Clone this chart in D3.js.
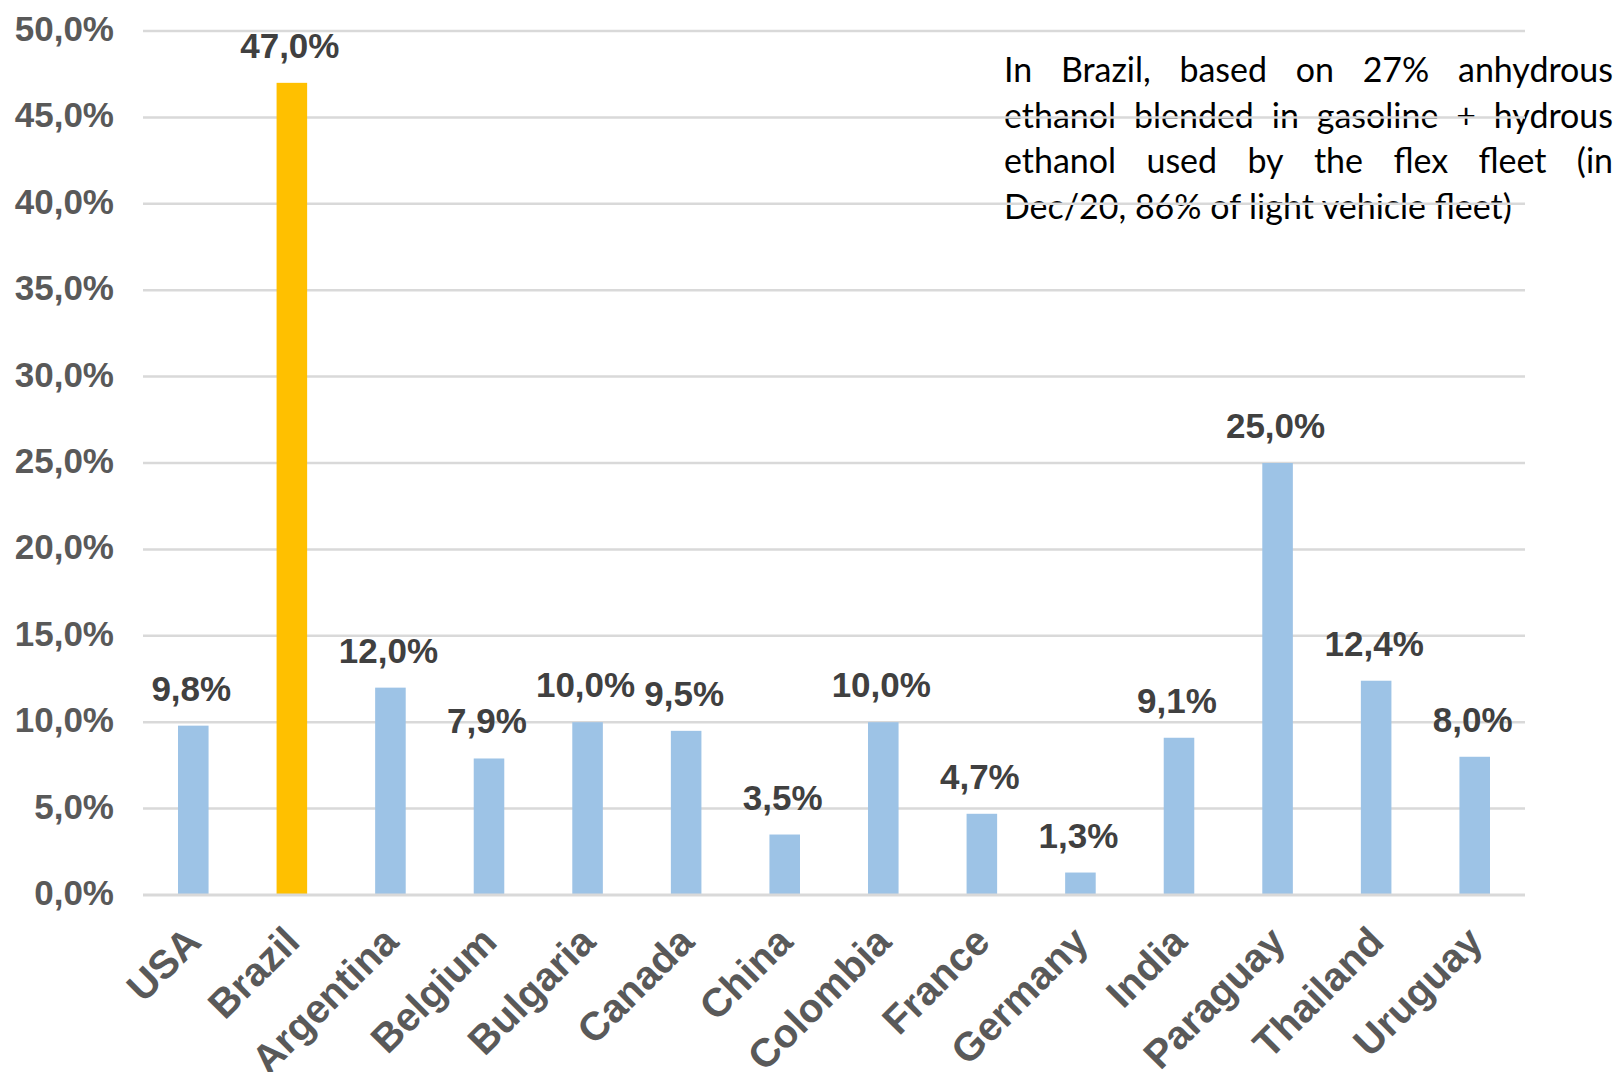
<!DOCTYPE html>
<html><head><meta charset="utf-8">
<script src="https://cdn.jsdelivr.net/npm/d3@7"></script>
<style>html,body{margin:0;padding:0;background:#fff;overflow:hidden}</style>
</head><body>
<svg id="chart" width="1620" height="1072"></svg>
<script>
const categories = ["USA","Brazil","Argentina","Belgium","Bulgaria","Canada","China","Colombia","France","Germany","India","Paraguay","Thailand","Uruguay"];
const values = [9.8,47.0,12.0,7.9,10.0,9.5,3.5,10.0,4.7,1.3,9.1,25.0,12.4,8.0];
const highlight = ["Brazil"];
const yTicks = [0,5,10,15,20,25,30,35,40,45,50];
const noteLines = [
  "In Brazil, based on 27% anhydrous",
  "ethanol blended in gasoline + hydrous",
  "ethanol used by the flex fleet (in",
  "Dec/20, 86% of light vehicle fleet)"
];

const svg = d3.select("#chart");
const fmt = v => v.toFixed(1).replace(".", ",") + "%";
const font = "'Liberation Sans', Arial, sans-serif";

const x = d3.scaleBand().domain(categories).range([144, 1524]).paddingInner(0.69).paddingOuter(0.345);
const y = d3.scaleLinear().domain([0, 50]).range([895, 31]);

// annotation text (justified)
const noteG = svg.append("g");
const noteLeft = 1004, noteRight = 1613, noteBase = 82, noteStep = 45.7;
const probe = noteG.append("text").attr("font-family","Lato, sans-serif").attr("font-size",100).text(noteLines[3]);
const pw = probe.node().getComputedTextLength();
probe.remove();
const noteSize = 100 * 508 / pw;
noteLines.forEach((line, i) => {
  const by = noteBase + i * noteStep;
  if (i === noteLines.length - 1) {
    noteG.append("text").attr("x", noteLeft).attr("y", by)
      .attr("font-family","Lato, sans-serif").attr("font-size", noteSize).attr("fill","#000").text(line);
    return;
  }
  const words = line.split(" ");
  const nodes = words.map(w => noteG.append("text").attr("y", by)
      .attr("font-family","Lato, sans-serif").attr("font-size", noteSize).attr("fill","#000").text(w));
  const widths = nodes.map(n => n.node().getComputedTextLength());
  const total = d3.sum(widths);
  const gap = (noteRight - noteLeft - total) / (words.length - 1);
  let cx = noteLeft;
  nodes.forEach((n, j) => { n.attr("x", cx); cx += widths[j] + gap; });
});

// gridlines
svg.append("g").selectAll("line").data(yTicks.filter(t => t > 0)).join("line")
  .attr("x1", 143).attr("x2", 1525)
  .attr("y1", d => y(d)).attr("y2", d => y(d))
  .attr("stroke", "#D9D9D9").attr("stroke-width", 2.5);

// y tick labels
svg.append("g").selectAll("text").data(yTicks).join("text")
  .attr("x", 114).attr("y", d => y(d) + 10)
  .attr("text-anchor", "end")
  .attr("font-family", font).attr("font-weight", "bold").attr("font-size", 35)
  .attr("fill", "#595959").text(d => fmt(d));

// bars
svg.append("g").selectAll("rect").data(categories).join("rect")
  .attr("x", d => x(d)).attr("width", x.bandwidth())
  .attr("y", (d, i) => y(values[i])).attr("height", (d, i) => y(0) - y(values[i]))
  .attr("fill", d => highlight.includes(d) ? "#FFC000" : "#9DC3E6");

// axis line
svg.append("line").attr("x1", 143).attr("x2", 1525).attr("y1", y(0)).attr("y2", y(0))
  .attr("stroke", "#D9D9D9").attr("stroke-width", 3);

// value labels
svg.append("g").selectAll("text").data(categories).join("text")
  .attr("x", d => x(d) + x.bandwidth() / 2 - 2)
  .attr("y", (d, i) => y(values[i]) - 25)
  .attr("text-anchor", "middle")
  .attr("font-family", font).attr("font-weight", "bold").attr("font-size", 35)
  .attr("fill", "#404040").text((d, i) => fmt(values[i]));

// x labels
svg.append("g").selectAll("text").data(categories).join("text")
  .attr("transform", d => `translate(${x(d) + x.bandwidth() / 2 + 10},944) rotate(-45)`)
  .attr("text-anchor", "end")
  .attr("font-family", font).attr("font-weight", "bold").attr("font-size", 40)
  .attr("fill", "#595959").text(d => d);
</script>
</body></html>
